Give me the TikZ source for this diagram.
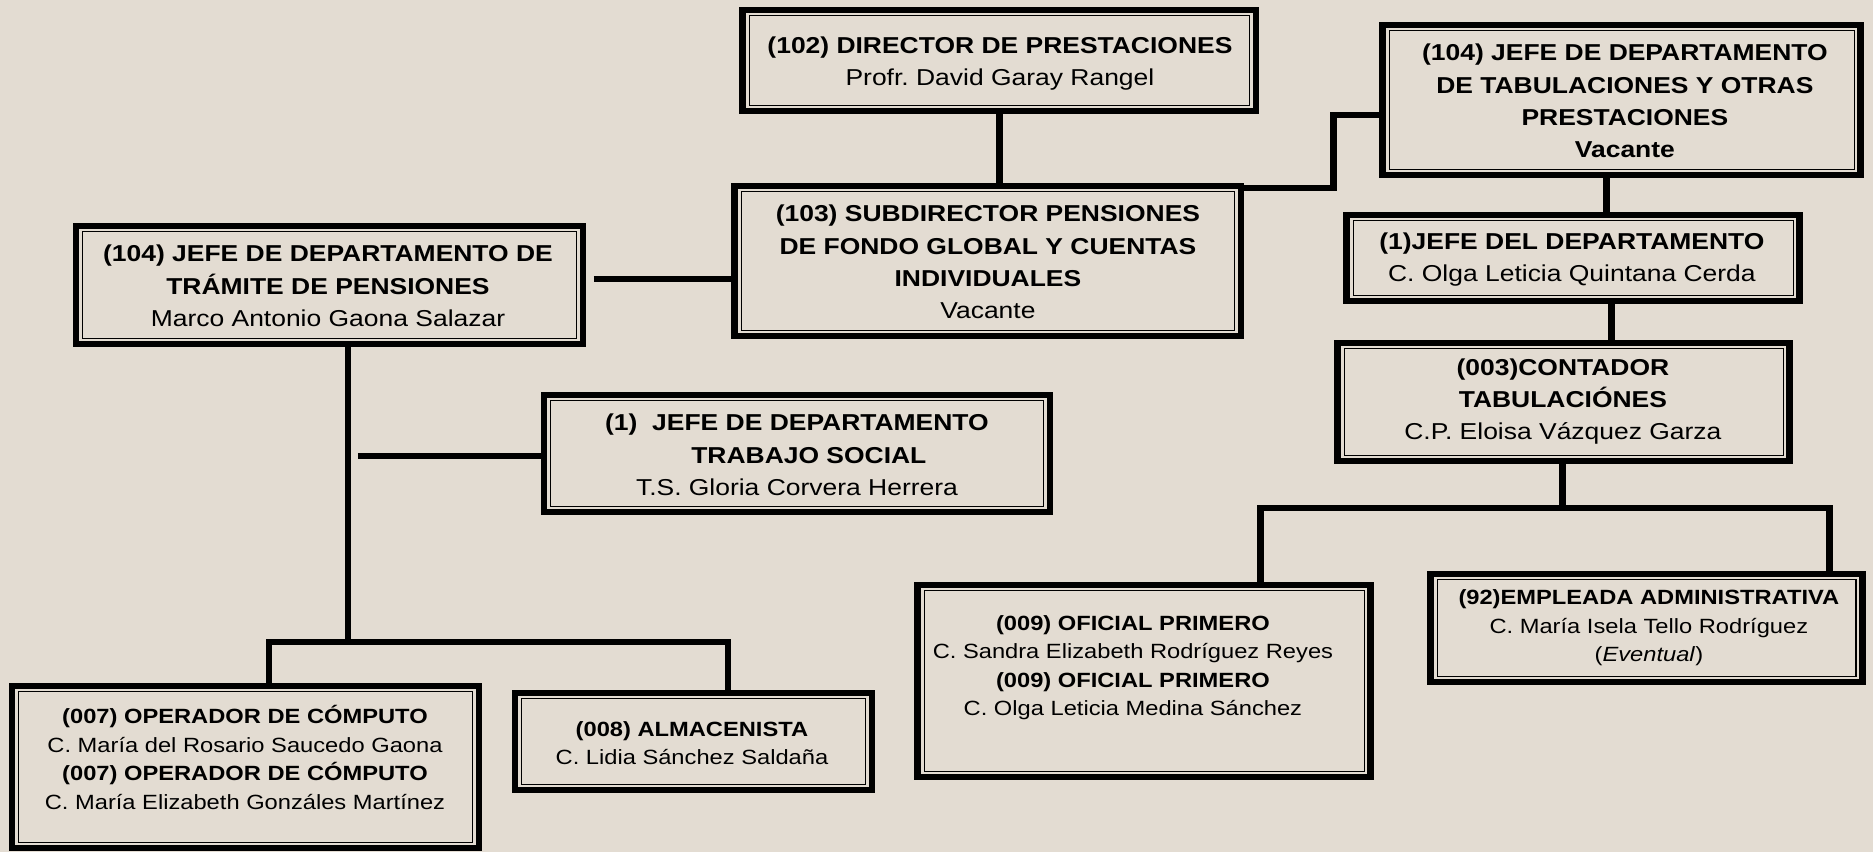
\documentclass[tikz,border=0pt]{standalone}
\usepackage{fontspec}
\setmainfont{Liberation Sans}
\definecolor{parch}{RGB}{227,220,210}
\def\sx{1.15}
\newcommand\innerframe[1]{\draw[innerln] ([shift={(5.7pt,-5.5pt)}]#1.north west) rectangle ([shift={(-5.7pt,5.5pt)}]#1.south east);}
\begin{document}
\frenchspacing
\begin{tikzpicture}[x=1pt,y=-1pt]
\fill[parch] (0,0) rectangle (1873,852);
\useasboundingbox (0,0) rectangle (1873,852);
\begin{scope}[transform canvas={xscale=\sx}, x=1pt/\sx, y=-1pt,
  obox/.style={draw=black, line width=6pt, outer sep=0pt, inner sep=0pt, rectangle},
  innerln/.style={draw=black, line width=1.5pt},
  conn/.style={draw=black, line width=6pt},
  txtL/.style={align=center, inner sep=0pt, font=\fontsize{23pt}{32.3pt}\selectfont},
  txtS/.style={align=center, inner sep=0pt, font=\fontsize{20.6pt}{28.5pt}\selectfont}]

% boxes
\node[obox, minimum width={513pt/\sx}, minimum height=101pt] (b102) at (999.5,60.5) {};
\node[obox, minimum width={506pt/\sx}, minimum height=150pt] (b103) at (988,261) {};
\node[obox, minimum width={507pt/\sx}, minimum height=118pt] (b104L) at (329.5,285) {};
\node[obox, minimum width={478pt/\sx}, minimum height=150pt] (b104R) at (1622,100) {};
\node[obox, minimum width={453pt/\sx}, minimum height=86pt] (b1J) at (1573.5,258) {};
\node[obox, minimum width={452pt/\sx}, minimum height=118pt] (b003) at (1564,402) {};
\node[obox, minimum width={506pt/\sx}, minimum height=117pt] (bTS) at (797,453.5) {};
\node[obox, minimum width={467pt/\sx}, minimum height=162pt] (b007) at (245.5,767) {};
\node[obox, minimum width={357pt/\sx}, minimum height=97pt] (b008) at (693.5,741.5) {};
\node[obox, minimum width={453pt/\sx}, minimum height=192pt] (b009) at (1144.5,681) {};
\node[obox, minimum width={432pt/\sx}, minimum height=108pt] (b92) at (1647,628) {};
\innerframe{b102}\innerframe{b103}\innerframe{b104L}\innerframe{b104R}
\innerframe{b1J}\innerframe{b003}\innerframe{bTS}\innerframe{b007}
\innerframe{b008}\innerframe{b009}\innerframe{b92}

% texts
\node[txtL] (t102) at (1000,63.5) {\textbf{(102) DIRECTOR DE PRESTACIONES}\\Profr. David Garay Rangel};
\node[txtL] (t103) at (988,262) {\textbf{(103) SUBDIRECTOR PENSIONES}\\\textbf{DE FONDO GLOBAL Y CUENTAS}\\\textbf{INDIVIDUALES}\\Vacante};
\node[txtL] (t104L) at (328,286) {\textbf{(104) JEFE DE DEPARTAMENTO DE}\\\textbf{TRÁMITE DE PENSIONES}\\Marco Antonio Gaona Salazar};
\node[txtL] (t104R) at (1625,101) {\textbf{(104) JEFE DE DEPARTAMENTO}\\\textbf{DE TABULACIONES Y OTRAS}\\\textbf{PRESTACIONES}\\\textbf{Vacante}};
\node[txtL] (t1J) at (1572,259.5) {\textbf{(1)JEFE DEL DEPARTAMENTO}\\C. Olga Leticia Quintana Cerda};
\node[txtL] (t003) at (1563,401.5) {\textbf{(003)CONTADOR}\\\textbf{TABULACIÓNES}\\C.P. Eloisa Vázquez Garza};
\node[txtL] (tTS) at (797,455) {\textbf{(1)\ \ JEFE DE DEPARTAMENTO}\\\hspace*{0.9em}\textbf{TRABAJO SOCIAL}\\T.S. Gloria Corvera Herrera};
\node[txtS] (t007) at (245,757.5) {\textbf{(007) OPERADOR DE CÓMPUTO}\\C. María del Rosario Saucedo Gaona\\\textbf{(007) OPERADOR DE CÓMPUTO}\\C. María Elizabeth Gonzáles Martínez};
\node[txtS] (t008) at (692,743) {\textbf{(008) ALMACENISTA}\\C. Lidia Sánchez Saldaña};
\node[txtS] (t009) at (1133,667.5) {\textbf{(009) OFICIAL PRIMERO}\\C. Sandra Elizabeth Rodríguez Reyes\\\textbf{(009) OFICIAL PRIMERO}\\C. Olga Leticia Medina Sánchez};
\node[txtS] (t92) at (1649,628) {\textbf{(92)EMPLEADA ADMINISTRATIVA}\\C. María Isela Tello Rodríguez\\(\textit{Eventual})};

% helper coordinates
\coordinate (x1000) at (1000,0);
\coordinate (x1334) at (1334,0);
\coordinate (x1607) at (1607,0);
\coordinate (x1612) at (1612,0);
\coordinate (x1563) at (1563,0);
\coordinate (x1261) at (1261,0);
\coordinate (x1830) at (1830,0);
\coordinate (x348) at (348,0);
\coordinate (x269) at (269,0);
\coordinate (x728) at (728,0);
\coordinate (l104) at (594,279);
\coordinate (lTS) at (358,456);
\coordinate (y188) at (0,188);
\coordinate (y115) at (0,115);
\coordinate (y508) at (0,508);
\coordinate (y642) at (0,642);

% connectors
\draw[conn] (b102.south -| x1000) -- (b103.north -| x1000);
\draw[conn] (l104) -- (b103.west |- l104);
\draw[conn] (b103.east |- y188) -- (x1334 |- y188) -- (x1334 |- y115) -- (b104R.west |- y115);
\draw[conn] (b104R.south -| x1607) -- (b1J.north -| x1607);
\draw[conn] (b1J.south -| x1612) -- (b003.north -| x1612);
\draw[conn] (b003.south -| x1563) -- (x1563 |- y508);
\draw[conn] (b009.north -| x1261) -- (x1261 |- y508) -- (x1830 |- y508) -- (b92.north -| x1830);
\draw[conn] (b104L.south -| x348) -- (x348 |- y642);
\draw[conn] (lTS) -- (bTS.west |- lTS);
\draw[conn] (b007.north -| x269) -- (x269 |- y642) -- (x728 |- y642) -- (b008.north -| x728);
\end{scope}
\end{tikzpicture}
\end{document}
